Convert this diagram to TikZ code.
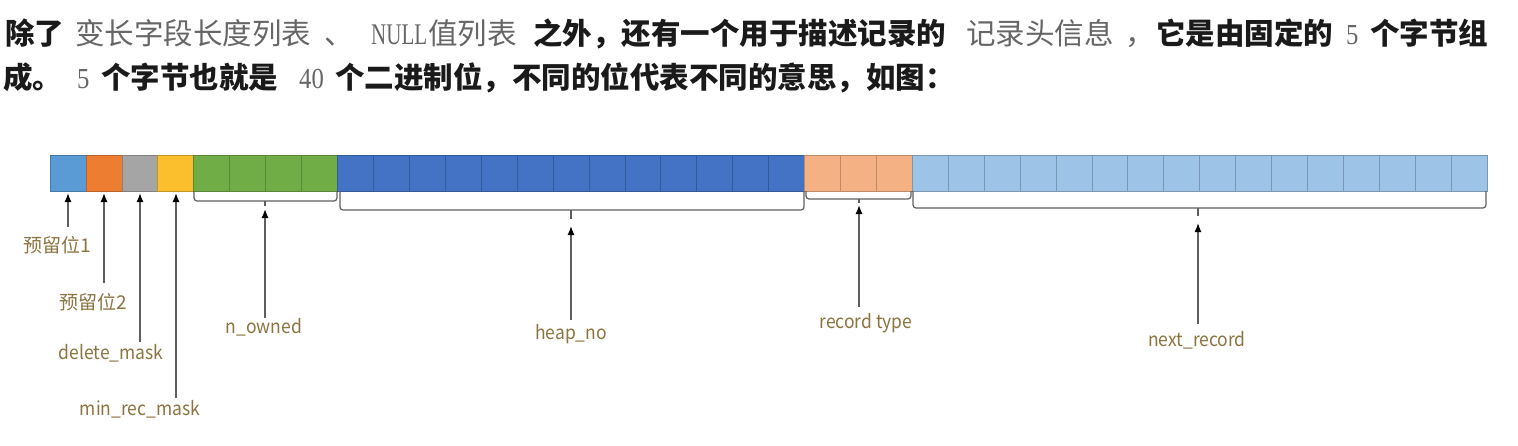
\documentclass[tikz,border=0pt]{standalone}
\usepackage{fontspec}
\usetikzlibrary{arrows.meta}
\newfontfamily\cjk{Noto Sans CJK SC}
\newfontfamily\cjklat{Noto Sans CJK SC}[FakeStretch=0.92]
\newfontfamily\serifn{Liberation Serif}[FakeStretch=0.7]
\newfontfamily\serifl{Liberation Serif}[FakeStretch=0.85]
\definecolor{cA}{HTML}{5B9BD5}
\definecolor{cB}{HTML}{ED7D31}
\definecolor{cC}{HTML}{A5A5A5}
\definecolor{cD}{HTML}{FBBE2D}
\definecolor{cG}{HTML}{70AD47}
\definecolor{cH}{HTML}{4472C4}
\definecolor{cP}{HTML}{F4B183}
\definecolor{cL}{HTML}{9DC3E6}
\definecolor{labcol}{HTML}{8C7440}
\definecolor{greytxt}{HTML}{666666}
\definecolor{blacktxt}{HTML}{1A1A1A}
\definecolor{brkcol}{HTML}{5F5F5F}
\tikzset{
  boldtxt/.style={anchor=base west, inner sep=0pt, text=blacktxt, font=\cjk\bfseries\fontsize{29.5}{30}\selectfont},
  greyseg/.style={anchor=base west, inner sep=0pt, text=greytxt, font=\cjk\fontsize{29.5}{30}\selectfont},
  greynull/.style={anchor=base west, inner sep=0pt, text=greytxt, font=\serifn\fontsize{30}{30}\selectfont},
  greylat/.style={anchor=base west, inner sep=0pt, text=greytxt, font=\serifl\fontsize{29}{30}\selectfont},
  lab/.style={inner sep=0pt, text=labcol, font=\cjk\fontsize{19}{19}\selectfont},
  labl/.style={inner sep=0pt, text=labcol, font=\cjklat\fontsize{19}{19}\selectfont},
  brk/.style={draw=brkcol, line width=1.2pt, rounded corners=3pt},
  tick/.style={draw=brkcol, line width=1.2pt},
  arr/.style={draw=brkcol, line width=1.3pt, -{Latex[length=9pt,width=7pt,color=black]}},
  cell/.style={line width=0.6pt}
}
\begin{document}
\begin{tikzpicture}[x=1pt,y=-1pt]
\useasboundingbox (0,0) rectangle (1518,445);
\fill[white] (0,0) rectangle (1518,445);
% ---------- text ----------
\node[boldtxt] (t1) at (5,44) {除了};
\node[greyseg] (t2) at (75,44) {变长字段长度列表};
\node[greyseg] (t3) at (324,44) {、};
\node[greynull] (t4a) at (371,44) {NULL};
\node[greyseg] (t4) at (428,44) {值列表};
\node[boldtxt] (t5) at (533,44) {之外，还有一个用于描述记录的};
\node[greyseg] (t6) at (966,44) {记录头信息};
\node[greyseg] (t7) at (1125,44) {，};
\node[boldtxt] (t8) at (1156,44) {它是由固定的};
\node[greylat] (t9) at (1346,44) {5};
\node[boldtxt] (t10) at (1370,44) {个字节组};
\node[boldtxt] (u1) at (3,88) {成。};
\node[greylat] (u2) at (77,88) {5};
\node[boldtxt] (u3) at (101,88) {个字节也就是};
\node[greylat] (u4) at (299,88) {40};
\node[boldtxt] (u5) at (335,88) {个二进制位，不同的位代表不同的意思，如图：};
% ---------- bar ----------
\def\w{35.925}
\foreach \i/\c in {0/cA,1/cB,2/cC,3/cD,4/cG,5/cG,6/cG,7/cG}{
  \filldraw[cell, fill=\c, draw=\c!78!black] ({50+\i*\w},155) rectangle +(\w,36);
}
\foreach \i in {8,...,20}{
  \filldraw[cell, fill=cH, draw=cH!78!black] ({50+\i*\w},155) rectangle +(\w,36);
}
\foreach \i in {21,22,23}{
  \filldraw[cell, fill=cP, draw=cP!78!black] ({50+\i*\w},155) rectangle +(\w,36);
}
\foreach \i in {24,...,39}{
  \filldraw[cell, fill=cL, draw=cL!78!black] ({50+\i*\w},155) rectangle +(\w,36);
}
% ---------- brackets ----------
\draw[brk] (194,191) -- (194,201) -- (337,201) -- (337,191);
\draw[tick] (265,201) -- (265,206);
\draw[brk] (340,191) -- (340,210) -- (804,210) -- (804,191);
\draw[tick] (571,210) -- (571,219);
\draw[brk] (806,191) -- (806,199) -- (911,199) -- (911,191);
\draw[tick] (859,199) -- (859,203);
\draw[brk] (913,191) -- (913,208) -- (1486,208) -- (1486,191);
\draw[tick] (1198,208) -- (1198,216);
% ---------- labels ----------
\node[lab] (l1) at (57,245) {预留位1};
\node[lab] (l2) at (93,302) {预留位2};
\node[labl] (l3) at (111,353) {delete\_mask};
\node[labl] (l4) at (140,409) {min\_rec\_mask};
\node[labl] (l5) at (264,327) {n\_owned};
\node[labl] (l6) at (571,334) {heap\_no};
\node[labl] (l7) at (866,323) {record type};
\node[labl] (l8) at (1197,340) {next\_record};
% ---------- arrow ends ----------
\coordinate (s1) at (68,227);   \coordinate (e1) at (68,193);
\coordinate (s2) at (104,283);  \coordinate (e2) at (104,193);
\coordinate (s3) at (140,342);  \coordinate (e3) at (140,193);
\coordinate (s4) at (176,398);  \coordinate (e4) at (176,193);
\coordinate (s5) at (265,318);  \coordinate (e5) at (265,209);
\coordinate (s6) at (571,320);  \coordinate (e6) at (571,226);
\coordinate (s7) at (859,307);  \coordinate (e7) at (859,205);
\coordinate (s8) at (1198,324); \coordinate (e8) at (1198,223);
\foreach \k in {1,...,8}{ \draw[arr] (s\k) -- (e\k); }
\end{tikzpicture}
\end{document}
